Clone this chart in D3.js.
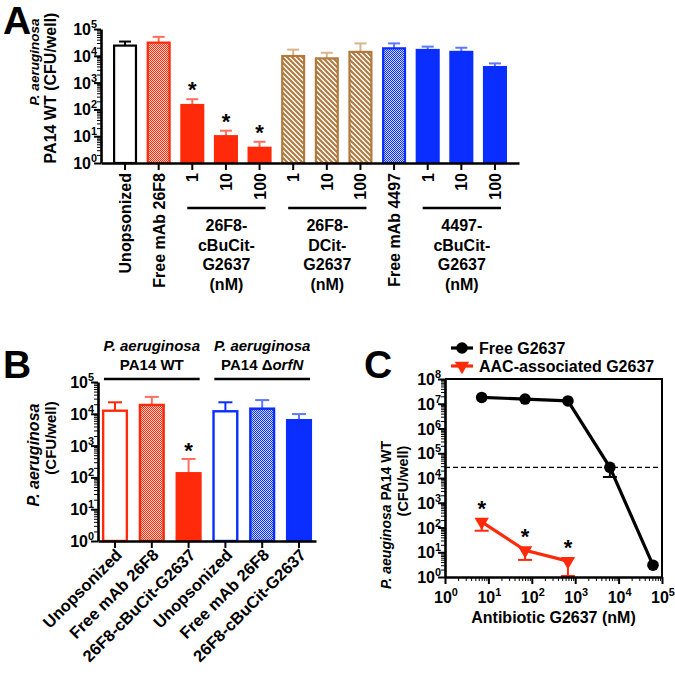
<!DOCTYPE html>
<html><head><meta charset="utf-8">
<script src="https://cdn.jsdelivr.net/npm/d3@7"></script>
<style>
body{margin:0;background:#fff}
svg{display:block;font-family:"Liberation Sans",Arial,Helvetica,sans-serif;font-weight:bold}
</style>
</head><body>
<svg id="fig" width="675" height="674"></svg>
<script>
// ---------------- DATA ----------------
// Panel A
const aLabels = ["Unopsonized","Free mAb 26F8","1","10","100","1","10","100","Free mAb 4497","1","10","100"];
const aMeans  = [2.4e4, 3.1e4, 146, 10, 3.7, 9.8e3, 8.0e3, 1.4e4, 1.9e4, 1.65e4, 1.4e4, 3.8e3];
const aUpper  = [3.4e4, 5.1e4, 240, 16, 6.2, 1.7e4, 1.3e4, 2.9e4, 2.9e4, 2.2e4, 2.0e4, 5.2e3];
const aStars  = [false,false,true,true,true,false,false,false,false,false,false,false];
const aGroupText = [["26F8-","cBuCit-","G2637","(nM)"],["26F8-","DCit-","G2637","(nM)"],["4497-","cBuCit-","G2637","(nM)"]];
const aGroupFrom = [2,5,9];
const aGroupTo   = [4,7,11];
const aYLabel = ["P. aeruginosa","PA14 WT (CFU/well)"];
const logTickExp = [0,1,2,3,4,5];

// Panel B
const bLabels = ["Unopsonized","Free mAb 26F8","26F8-cBuCit-G2637","Unopsonized","Free mAb 26F8","26F8-cBuCit-G2637"];
const bMeans  = [1.25e4, 1.9e4, 135, 1.2e4, 1.45e4, 6.3e3];
const bUpper  = [2.3e4, 3.4e4, 380, 2.3e4, 2.7e4, 9.8e3];
const bStars  = [false,false,true,false,false,false];
const bHeaders = [["P. aeruginosa","PA14 WT"],["P. aeruginosa","PA14 \u0394","orfN"]];
const bYLabel = ["P. aeruginosa","(CFU/well)"];

// Panel C
const cConc    = [7, 70, 680, 6300, 62000];
const cFree    = [1.8e7, 1.55e7, 1.3e7, 2.7e4, 3.0];
const cFreeLow = [null, null, null, 1.1e4, null];
const cAacConc = [7, 70, 680];
const cAac     = [170, 12, 4.4];
const cAacLow  = [74, 4.9, 1.1];
const cThreshold = 2.7e4;
const cXExp = [0,1,2,3,4,5];
const cYExp = [0,1,2,3,4,5,6,7,8];
const cLegend = ["Free G2637","AAC-associated G2637"];
const cXLabel = "Antibiotic G2637 (nM)";
const cYLabel = ["P. aeuginosa"," PA14 WT","(CFU/well)"];

// ---------------- STYLE ----------------
const RED="#ff2a0a", RED_L="#ff6e5e", BLUE="#0a2eff", BLUE_L="#5b78ff", BROWN="#b07a3e", BROWN_L="#d8b48c";
const svg = d3.select("#fig");
const defs = svg.append("defs");
function checker(id, light, dark){
  const p = defs.append("pattern").attr("id",id).attr("patternUnits","userSpaceOnUse").attr("width",2).attr("height",2);
  p.append("rect").attr("width",2).attr("height",2).attr("fill",light);
  p.append("rect").attr("width",1).attr("height",1).attr("fill",dark);
  p.append("rect").attr("x",1).attr("y",1).attr("width",1).attr("height",1).attr("fill",dark);
}
checker("chkRed","#ffd6cf",RED);
checker("chkBlue","#d2daff",BLUE);
{
  const p = defs.append("pattern").attr("id","hatch").attr("patternUnits","userSpaceOnUse").attr("width",5).attr("height",5);
  p.append("rect").attr("width",5).attr("height",5).attr("fill","#fff");
  p.append("path").attr("d","M-1,-1L6,6M-1,4L1,6M4,-1L6,1").attr("stroke",BROWN).attr("stroke-width",2.1);
}
const aStyle = i => {
  if(i===0) return {fill:"#fff",stroke:"#000",err:"#000"};
  if(i===1) return {fill:"url(#chkRed)",stroke:RED,err:RED_L};
  if(i<=4) return {fill:RED,stroke:RED,err:RED_L};
  if(i<=7) return {fill:"url(#hatch)",stroke:BROWN,err:BROWN_L};
  if(i===8) return {fill:"url(#chkBlue)",stroke:BLUE,err:BLUE_L};
  return {fill:BLUE,stroke:BLUE,err:BLUE_L};
};
const bStyle = i => {
  const c = i<3?RED:BLUE, l = i<3?RED_L:BLUE_L;
  const k = i%3;
  if(k===0) return {fill:"#fff",stroke:c,err:c};
  if(k===1) return {fill:i<3?"url(#chkRed)":"url(#chkBlue)",stroke:c,err:l};
  return {fill:c,stroke:c,err:l};
};

// helper: log axis (left)
function logAxisLeft(g, y, x0, exps, labelSize){
  const majors = exps.map(e=>Math.pow(10,e));
  const minors = [];
  for(let e=exps[0]; e<exps[exps.length-1]; e++) for(let k=2;k<10;k++) minors.push(k*Math.pow(10,e));
  const ax = g.append("g").attr("transform",`translate(${x0},0)`)
    .call(d3.axisLeft(y).tickValues(majors).tickSize(7).tickSizeOuter(0).tickFormat(""));
  ax.select(".domain").attr("stroke-width",2.6);
  ax.selectAll(".tick line").attr("stroke-width",2);
  const mx = g.append("g").attr("transform",`translate(${x0},0)`)
    .call(d3.axisLeft(y).tickValues(minors).tickSize(4).tickSizeOuter(0).tickFormat(""));
  mx.select(".domain").remove();
  mx.selectAll(".tick line").attr("stroke-width",1);
  exps.forEach(e=>{
    const t = g.append("text").attr("x",x0-4).attr("y",y(Math.pow(10,e))+6).attr("text-anchor","end")
      .attr("font-size",labelSize);
    t.append("tspan").text("10");
    t.append("tspan").attr("dy",-7).attr("font-size",labelSize*0.68).text(e);
  });
}
function logAxisBottom(g, x, y0, exps, labelSize){
  const majors = exps.map(e=>Math.pow(10,e));
  const minors = [];
  for(let e=exps[0]; e<exps[exps.length-1]; e++) for(let k=2;k<10;k++) minors.push(k*Math.pow(10,e));
  const ax = g.append("g").attr("transform",`translate(0,${y0})`)
    .call(d3.axisBottom(x).tickValues(majors).tickSize(7).tickSizeOuter(0).tickFormat(""));
  ax.select(".domain").attr("stroke-width",2.6);
  ax.selectAll(".tick line").attr("stroke-width",2);
  const mx = g.append("g").attr("transform",`translate(0,${y0})`)
    .call(d3.axisBottom(x).tickValues(minors).tickSize(4).tickSizeOuter(0).tickFormat(""));
  mx.select(".domain").remove();
  mx.selectAll(".tick line").attr("stroke-width",1);
  exps.forEach(e=>{
    const t = g.append("text").attr("x",x(Math.pow(10,e))+1).attr("y",y0+26).attr("text-anchor","middle")
      .attr("font-size",labelSize);
    t.append("tspan").text("10");
    t.append("tspan").attr("dy",-7).attr("font-size",labelSize*0.68).text(e);
  });
}
function star(g, x, yc){
  g.append("text").attr("x",x).attr("y",yc+11).attr("text-anchor","middle").attr("font-size",22).text("*");
}
function errUp(g, x, y1, y2, half, color){
  g.append("line").attr("x1",x).attr("x2",x).attr("y1",y1).attr("y2",y2).attr("stroke",color).attr("stroke-width",2);
  g.append("line").attr("x1",x-half).attr("x2",x+half).attr("y1",y2).attr("y2",y2).attr("stroke",color).attr("stroke-width",2);
}

// ---------------- PANEL A ----------------
{
  const g = svg.append("g");
  const y = d3.scaleLog().domain([1,1e5]).range([163,29]);
  const x = d3.scaleBand().domain(d3.range(aLabels.length)).range([101,519]).paddingInner(0.29).paddingOuter(0.36);
  const bw = x.bandwidth();
  aMeans.forEach((v,i)=>{
    const s = aStyle(i), cx = x(i)+bw/2;
    errUp(g, cx, y(v), y(aUpper[i]), 6, s.err);
    g.append("rect").attr("x",x(i)+1).attr("y",y(v)).attr("width",bw-2).attr("height",y(1)-y(v))
      .attr("fill",s.fill).attr("stroke",s.stroke).attr("stroke-width",2.2);
    if(aStars[i]) star(g, cx, y(aUpper[i])-13);
  });
  logAxisLeft(g, y, 101, logTickExp, 16);
  const xa = g.append("g").attr("transform","translate(0,163)")
    .call(d3.axisBottom(x).tickSize(7).tickSizeOuter(0).tickFormat(""));
  xa.select(".domain").attr("stroke-width",2.6);
  xa.selectAll(".tick line").attr("stroke-width",2);
  aLabels.forEach((l,i)=>{
    g.append("text").attr("transform",`translate(${x(i)+bw/2+6},173) rotate(-90)`)
      .attr("text-anchor","end").attr("font-size",16).text(l);
  });
  aGroupFrom.forEach((f,k)=>{
    const x1 = x(f)+bw/2-5, x2 = x(aGroupTo[k])+bw/2+6, mid=(x1+x2)/2;
    g.append("line").attr("x1",x1).attr("x2",x2).attr("y1",208).attr("y2",208).attr("stroke","#000").attr("stroke-width",2.6);
    aGroupText[k].forEach((t,j)=>{
      g.append("text").attr("x",mid).attr("y",231+j*19.5).attr("text-anchor","middle").attr("font-size",16).text(t);
    });
  });
  g.append("text").attr("transform","translate(39,62) rotate(-90)").attr("text-anchor","middle").attr("font-size",13.5)
    .attr("font-style","italic").text(aYLabel[0]);
  g.append("text").attr("transform","translate(56,88) rotate(-90)").attr("text-anchor","middle").attr("font-size",16).text(aYLabel[1]);
  svg.append("text").attr("x",3).attr("y",34).attr("font-size",39).text("A");
}

// ---------------- PANEL B ----------------
{
  const g = svg.append("g");
  const y = d3.scaleLog().domain([1,1e5]).range([541,382]);
  const x = d3.scaleBand().domain(d3.range(bLabels.length)).range([98,316]).paddingInner(0.29).paddingOuter(0.107);
  const bw = x.bandwidth();
  bMeans.forEach((v,i)=>{
    const s = bStyle(i), cx = x(i)+bw/2;
    errUp(g, cx, y(v), y(bUpper[i]), 7, s.err);
    g.append("rect").attr("x",x(i)+1.2).attr("y",y(v)).attr("width",bw-2.4).attr("height",y(1)-y(v))
      .attr("fill",s.fill).attr("stroke",s.stroke).attr("stroke-width",2.4);
    if(bStars[i]) star(g, cx, y(bUpper[i])-12);
  });
  logAxisLeft(g, y, 98, logTickExp, 16);
  const xa = g.append("g").attr("transform","translate(0,541)")
    .call(d3.axisBottom(x).tickSize(7).tickSizeOuter(0).tickFormat(""));
  xa.select(".domain").attr("stroke-width",2.6);
  xa.selectAll(".tick line").attr("stroke-width",2);
  bLabels.forEach((l,i)=>{
    g.append("text").attr("transform",`translate(${x(i)+bw/2+8},556) rotate(-45)`)
      .attr("text-anchor","end").attr("font-size",16.5).text(l);
  });
  [[0,2],[3,5]].forEach(([f,t],k)=>{
    const x1 = x(f)+2, x2 = x(t)+bw-2, mid=(x1+x2)/2;
    g.append("line").attr("x1",x1).attr("x2",x2).attr("y1",379).attr("y2",379).attr("stroke","#000").attr("stroke-width",2.6);
    g.append("text").attr("x",mid).attr("y",351).attr("text-anchor","middle").attr("font-size",15).attr("font-style","italic").text(bHeaders[k][0]);
    const t2 = g.append("text").attr("x",mid).attr("y",370).attr("text-anchor","middle").attr("font-size",15);
    t2.append("tspan").text(bHeaders[k][1]);
    if(bHeaders[k][2]) t2.append("tspan").attr("font-style","italic").text(bHeaders[k][2]);
  });
  g.append("text").attr("transform","translate(39,455) rotate(-90)").attr("text-anchor","middle").attr("font-size",16)
    .attr("font-style","italic").text(bYLabel[0]);
  g.append("text").attr("transform","translate(56,438) rotate(-90)").attr("text-anchor","middle").attr("font-size",15).text(bYLabel[1]);
  svg.append("text").attr("x",3).attr("y",378).attr("font-size",39).text("B");
}

// ---------------- PANEL C ----------------
{
  const g = svg.append("g");
  const x = d3.scaleLog().domain([1,1e5]).range([445,662]);
  const y = d3.scaleLog().domain([1,1e8]).range([577,379]);
  // frame
  g.append("path").attr("d",`M${x(1)},${y(1e8)}H${x(1e5)}V${y(1)}`).attr("fill","none").attr("stroke","#000").attr("stroke-width",2);
  // threshold
  g.append("line").attr("x1",x(1)).attr("x2",x(1e5)).attr("y1",y(cThreshold)).attr("y2",y(cThreshold))
    .attr("stroke","#000").attr("stroke-width",1.3).attr("stroke-dasharray","5,3");
  // free
  const line = d3.line().x(d=>x(d[0])).y(d=>y(d[1]));
  cFreeLow.forEach((lo,i)=>{ if(lo!=null) errUp(g, x(cConc[i]), y(cFree[i]), y(lo), 7, "#000"); });
  g.append("path").attr("d",line(cConc.map((c,i)=>[c,cFree[i]]))).attr("fill","none").attr("stroke","#000").attr("stroke-width",3.2);
  cConc.forEach((c,i)=>g.append("circle").attr("cx",x(c)).attr("cy",y(cFree[i])).attr("r",5.8).attr("fill","#000"));
  // AAC
  cAacLow.forEach((lo,i)=>errUp(g, x(cAacConc[i]), y(cAac[i]), y(lo), 7, RED));
  g.append("path").attr("d",line(cAacConc.map((c,i)=>[c,cAac[i]]))).attr("fill","none").attr("stroke",RED).attr("stroke-width",3.2);
  const tri = d3.symbol().type(d3.symbolTriangle).size(90);
  cAacConc.forEach((c,i)=>{
    g.append("path").attr("d",tri()).attr("transform",`translate(${x(c)},${y(cAac[i])}) rotate(180)`).attr("fill",RED);
    star(g, x(c), y(cAac[i])-17);
  });
  logAxisLeft(g, y, 445, cYExp, 16);
  logAxisBottom(g, x, 577, cXExp, 16);
  g.append("text").attr("x",(x(1)+x(1e5))/2).attr("y",623).attr("text-anchor","middle").attr("font-size",16).text(cXLabel);
  const yl = g.append("text").attr("transform","translate(391,515) rotate(-90)").attr("text-anchor","middle").attr("font-size",14);
  yl.append("tspan").attr("font-style","italic").text(cYLabel[0]);
  yl.append("tspan").text(cYLabel[1]);
  g.append("text").attr("transform","translate(408,481) rotate(-90)").attr("text-anchor","middle").attr("font-size",14.5).text(cYLabel[2]);
  // legend
  g.append("line").attr("x1",451).attr("x2",473).attr("y1",348).attr("y2",348).attr("stroke","#000").attr("stroke-width",3.2);
  g.append("circle").attr("cx",462).attr("cy",348).attr("r",5.8).attr("fill","#000");
  g.append("text").attr("x",479).attr("y",354).attr("font-size",16).text(cLegend[0]);
  g.append("line").attr("x1",451).attr("x2",473).attr("y1",366).attr("y2",366).attr("stroke",RED).attr("stroke-width",3.2);
  g.append("path").attr("d",tri()).attr("transform","translate(462,366) rotate(180)").attr("fill",RED);
  g.append("text").attr("x",479).attr("y",372).attr("font-size",16).text(cLegend[1]);
  svg.append("text").attr("x",364).attr("y",378).attr("font-size",39).text("C");
}
</script>
</body></html>
